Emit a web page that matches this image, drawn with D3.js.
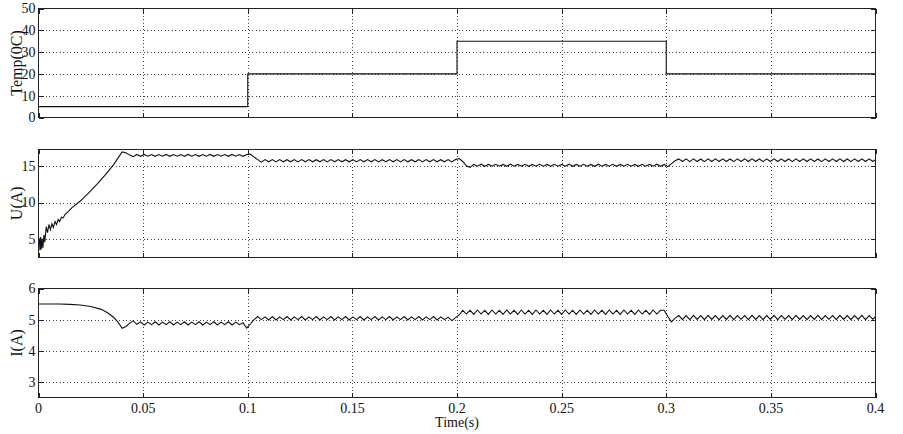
<!DOCTYPE html>
<html><head><meta charset="utf-8">
<script src="https://cdn.jsdelivr.net/npm/d3@7"></script>
<style>
body{margin:0;background:#fff;}
svg{display:block;}
text{font-family:"Liberation Serif","Times New Roman",serif;fill:#111;}
</style></head>
<body><svg id="c" width="903" height="434"></svg>
<script>
// ---------- DATA ----------
const xTicks = [0, 0.05, 0.1, 0.15, 0.2, 0.25, 0.3, 0.35, 0.4];
const xTickLabels = ["0","0.05","0.1","0.15","0.2","0.25","0.3","0.35","0.4"];

// Temperature (step)
const tempT = [0, 0.1, 0.2, 0.3, 0.4];
const tempV = [5, 20, 35, 20, 20];
const tempTicks = [0, 10, 20, 30, 40, 50];

// Voltage U: start-up transient
const uStartT = [0,0.0004,0.0007,0.001,0.0013,0.0017,0.0021,0.0026,0.003,0.0037,0.0043,0.005,0.0057,0.0064,0.0071,0.0079,0.0086,0.0094,0.0101,0.011,0.0118,0.0127,0.0136,0.016,0.02,0.024,0.028,0.032,0.036,0.039];
const uStartV = [5.3,4.9,3.5,5.3,3.6,5.1,3.8,5.6,4.6,6.7,5.9,7.0,6.3,7.1,6.6,7.4,7.0,7.7,7.4,8.0,7.9,8.4,8.6,9.3,10.2,11.3,12.5,13.8,15.2,16.5];
// Voltage U: rippled segments, sampled every 0.00175 s from the given start
const rippleStep = 0.00175;
const uR1Start = 0.04;
const uR1 = [16.9,16.8,16.5,16.25,16.55,16.3,16.56,16.32,16.55,16.3,
16.54,16.31,16.56,16.3,16.55,16.32,16.55,16.3,16.56,16.31,
16.54,16.3,16.55,16.32,16.56,16.3,16.55,16.31,16.54,16.3,
16.56,16.32,16.55,16.3,16.56];
const uR2Start = 0.10125;
const uR2 = [16.6,16.2,15.85,15.5,15.85,15.55,15.86,15.54,15.85,15.56,
15.84,15.55,15.86,15.54,15.85,15.55,15.86,15.56,15.84,15.55,
15.85,15.54,15.86,15.55,15.85,15.56,15.84,15.55,15.86,15.54,
15.85,15.55,15.86,15.56,15.85,15.54,15.84,15.55,15.86,15.56,
15.85,15.54,15.86,15.55,15.84,15.56,15.85,15.54,15.86,15.55,
15.85,15.56,15.84,15.55,15.86,15.54,15.85];
const uR3Start = 0.201;
const uR3 = [16.0,15.6,15.0,14.8,15.2,14.95,15.22,14.94,15.2,14.96,
15.21,14.95,15.2,14.94,15.22,14.96,15.2,14.95,15.21,14.94,
15.2,14.96,15.22,14.95,15.2,14.94,15.21,14.96,15.2,14.95,
15.22,14.94,15.2,14.96,15.21,14.95,15.2,14.94,15.22,14.96,
15.2,14.95,15.21,14.94,15.2,14.96,15.22,14.95,15.2,14.94,
15.21,14.96,15.2,14.95,15.22,14.94,15.2];
const uR4Start = 0.30075;
const uR4 = [14.9,15.3,15.7,15.95,15.6,15.96,15.58,15.95,15.6,15.94,
15.58,15.96,15.6,15.95,15.59,15.96,15.6,15.94,15.58,15.95,
15.6,15.96,15.59,15.95,15.6,15.94,15.58,15.96,15.6,15.95,
15.59,15.96,15.6,15.94,15.58,15.95,15.6,15.96,15.59,15.95,
15.6,15.94,15.58,15.96,15.6,15.95,15.59,15.96,15.6,15.94,
15.58,15.95,15.6,15.96,15.59,15.95,15.6,15.94];
const uTicks = [5, 10, 15];

// Current I
const iStartT = [0,0.01,0.015,0.02,0.025,0.03,0.033,0.036,0.038];
const iStartV = [5.5,5.5,5.49,5.47,5.42,5.33,5.22,5.07,4.92];
const iR1Start = 0.04;
const iR1 = [4.72,4.78,4.88,4.96,4.85,4.93,4.83,4.92,4.84,4.93,
4.83,4.92,4.84,4.93,4.83,4.92,4.84,4.93,4.83,4.92,
4.84,4.93,4.83,4.92,4.84,4.93,4.83,4.92,4.84,4.93,
4.83,4.92,4.84,4.9,4.73];
const iR2Start = 0.10125;
const iR2 = [4.86,5.0,5.1,5.0,5.09,4.99,5.1,4.99,5.09,5.0,
5.1,4.99,5.09,5.0,5.1,4.99,5.09,5.0,5.1,4.99,
5.09,5.0,5.1,4.99,5.09,5.0,5.1,4.99,5.09,5.0,
5.1,4.99,5.09,5.0,5.1,4.99,5.09,5.0,5.1,4.99,
5.09,5.0,5.1,4.99,5.09,5.0,5.1,4.99,5.09,5.0,
5.1,4.99,5.09,5.0,5.08,4.97];
const iR3Start = 0.201;
const iR3 = [5.15,5.3,5.18,5.3,5.17,5.31,5.18,5.3,5.17,5.31,
5.18,5.3,5.17,5.31,5.18,5.3,5.17,5.31,5.18,5.3,
5.17,5.31,5.18,5.3,5.17,5.31,5.18,5.3,5.17,5.31,
5.18,5.3,5.17,5.31,5.18,5.3,5.17,5.31,5.18,5.3,
5.17,5.31,5.18,5.3,5.17,5.31,5.18,5.3,5.17,5.31,
5.18,5.3,5.17,5.31,5.18,5.3,5.3];
const iR4Start = 0.30075;
const iR4 = [5.1,4.93,5.05,5.13,5.0,5.13,5.0,5.14,5.01,5.13,
5.0,5.14,5.01,5.13,5.0,5.13,5.01,5.14,5.0,5.13,
5.01,5.13,5.0,5.14,5.01,5.13,5.0,5.13,5.01,5.14,
5.0,5.13,5.01,5.13,5.0,5.14,5.01,5.13,5.0,5.13,
5.01,5.14,5.0,5.13,5.01,5.13,5.0,5.14,5.01,5.13,
5.0,5.13,5.01,5.14,5.0,5.13,5.01,5.13];
const iTicks = [3, 4, 5, 6];

// ---------- BUILD ----------
function pairs(ts, vs){ return ts.map((t,i)=>[t, vs[i]]); }
function seg(t0, vs){ return vs.map((v,i)=>[t0 + i*rippleStep, v]); }
const uData = [].concat(pairs(uStartT,uStartV), seg(uR1Start,uR1), seg(uR2Start,uR2), seg(uR3Start,uR3), seg(uR4Start,uR4));
const iData = [].concat(pairs(iStartT,iStartV), seg(iR1Start,iR1), seg(iR2Start,iR2), seg(iR3Start,iR3), seg(iR4Start,iR4));
const tempData = pairs(tempT, tempV);

const svg = d3.select("#c");
const x = d3.scaleLinear().domain([0, 0.4]).range([38.5, 875.5]);

const panels = [
  {top:8.5, bottom:117.5, domain:[0,50], ticks:tempTicks, label:"Temp(0C)", data:tempData, curve:d3.curveStepAfter},
  {top:149, bottom:257.5, domain:[2.5,17.3], ticks:uTicks, label:"U(A)", data:uData, curve:d3.curveLinear},
  {top:288.5, bottom:397.5, domain:[2.5,6], ticks:iTicks, label:"I(A)", data:iData, curve:d3.curveLinear}
];

const x0 = x.range()[0], x1 = x.range()[1];
panels.forEach((p, pi) => {
  const y = d3.scaleLinear().domain(p.domain).range([p.bottom, p.top]);
  const g = svg.append("g");
  svg.append("clipPath").attr("id","clip"+pi).append("rect")
    .attr("x", x0).attr("y", p.top).attr("width", x1-x0).attr("height", p.bottom-p.top);
  // grid
  const grid = g.append("g").attr("stroke","#444").attr("stroke-width",1).attr("stroke-dasharray","1,2.5").attr("shape-rendering","crispEdges");
  xTicks.slice(1,-1).forEach(t => grid.append("line").attr("x1",Math.round(x(t))+0.5).attr("x2",Math.round(x(t))+0.5).attr("y1",p.top).attr("y2",p.bottom));
  p.ticks.forEach(t => { if (t>p.domain[0] && t<p.domain[1]) grid.append("line").attr("y1",Math.round(y(t))+0.5).attr("y2",Math.round(y(t))+0.5).attr("x1",x0).attr("x2",x1); });
  // data line
  const line = d3.line().x(d=>x(d[0])).y(d=>y(d[1])).curve(p.curve);
  g.append("path").datum(p.data).attr("d", line).attr("fill","none").attr("stroke","#111").attr("stroke-width",1.1).attr("clip-path","url(#clip"+pi+")");
  // frame
  g.append("rect").attr("x",x0).attr("y",p.top).attr("width",x1-x0).attr("height",p.bottom-p.top)
    .attr("fill","none").attr("stroke","#222").attr("stroke-width",1).attr("shape-rendering","crispEdges");
  // ticks (inward)
  const tk = g.append("g").attr("stroke","#222").attr("stroke-width",1).attr("shape-rendering","crispEdges");
  xTicks.forEach(t => {
    const xx = Math.round(x(t))+0.5;
    tk.append("line").attr("x1",xx).attr("x2",xx).attr("y1",p.bottom).attr("y2",p.bottom-5);
    tk.append("line").attr("x1",xx).attr("x2",xx).attr("y1",p.top).attr("y2",p.top+5);
  });
  p.ticks.forEach(t => {
    const yy = Math.round(y(t))+0.5;
    tk.append("line").attr("x1",x0).attr("x2",x0+5).attr("y1",yy).attr("y2",yy);
    tk.append("line").attr("x1",x1).attr("x2",x1-5).attr("y1",yy).attr("y2",yy);
    g.append("text").attr("x", x0-3).attr("y", y(t)).attr("dy","0.35em").attr("text-anchor","end")
      .attr("font-size",14).text(t);
  });
  // y label
  g.append("text").attr("transform",`translate(22,${(p.top+p.bottom)/2}) rotate(-90)`)
    .attr("text-anchor","middle").attr("font-size",16).text(p.label);
  if (pi === panels.length-1) {
    xTicks.forEach((t,i) => g.append("text").attr("x", x(t)).attr("y", p.bottom+15).attr("text-anchor","middle")
      .attr("font-size",14).text(xTickLabels[i]));
    g.append("text").attr("x", (x0+x1)/2).attr("y", p.bottom+29).attr("text-anchor","middle").attr("font-size",14).text("Time(s)");
  }
});
</script></body></html>
